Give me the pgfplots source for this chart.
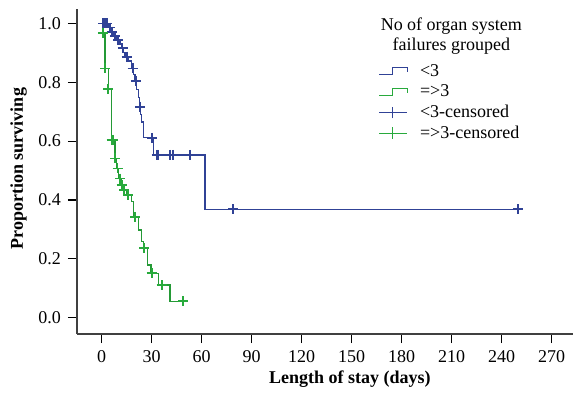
\documentclass[border=0pt]{standalone}
\usepackage{fontspec}
\setmainfont{Liberation Serif}
\usepackage{pgfplots}
\pgfplotsset{compat=1.18}
\definecolor{kmblue}{RGB}{48,66,150}
\definecolor{kmgreen}{RGB}{40,170,60}
\newcommand{\fs}{\fontsize{9bp}{10bp}\selectfont}
\pgfplotsset{
  steplegend/.style={legend image code/.code={
    \draw[##1] (0bp,-1.75bp) -- (6.7bp,-1.75bp) -- (6.7bp,1.75bp) -- (14.2bp,1.75bp) -- (14.2bp,-0.5bp);}},
  censlegend/.style={legend image code/.code={
    \draw[##1] (0bp,0bp) -- (14.2bp,0bp); \draw[##1] (6.8bp,-2.9bp) -- (6.8bp,2.9bp);}},
}
\begin{document}
\begin{tikzpicture}
\begin{axis}[
  scale only axis, width=248bp, height=162.5bp,
  xmin=-14.8, xmax=282.8, ymin=-0.0554, ymax=1.049,
  axis lines*=left,
  axis line style={line width=0.8bp, black!75},
  tick align=outside, major tick length=4.5bp,
  tick style={black, line width=0.6bp},
  xtick={0,30,...,270}, ytick={0,0.2,0.4,0.6,0.8,1.0},
  yticklabel style={/pgf/number format/.cd, fixed, fixed zerofill, precision=1},
  /pgf/number format/assume math mode=true,
  ticklabel style={font=\fs},
  xlabel={Length of stay (days)}, ylabel={Proportion surviving},
  label style={font=\fs\bfseries},
  xlabel style={at={(rel axis cs:0.55,0)}, anchor=base, yshift=-24.75bp},
  ylabel style={at={([xshift=-29.25bp]rel axis cs:0,0.509)}, anchor=center},
  legend style={at={(rel axis cs:0.607,0.834)}, anchor=north west, draw=none, fill=none,
    font=\fs, inner sep=0pt, row sep=2.3bp, column sep=6bp,
    nodes={inner sep=0pt, text height=6.5bp, text depth=1.5bp}},
  legend cell align=left,
]
\coordinate (SW) at (rel axis cs:0,0);
\coordinate (NE) at (rel axis cs:1,1);

\addlegendimage{kmblue, line width=0.6bp, steplegend}
\addlegendentry{<3}
\addlegendimage{kmgreen, line width=0.6bp, steplegend}
\addlegendentry{=>3}
\addlegendimage{kmblue, line width=0.6bp, censlegend}
\addlegendentry{<3-censored}
\addlegendimage{kmgreen, line width=0.6bp, censlegend}
\addlegendentry{=>3-censored}

% <3 group survival curve
\addplot[kmblue, line width=0.6bp, const plot, mark=none, forget plot] coordinates {
(0,1.000) (4,0.986) (5,0.972) (7,0.958) (9,0.944) (11,0.930) (12,0.916) (13,0.902)
(14,0.887) (16,0.872) (18,0.847) (19,0.826) (20,0.805) (21,0.776) (22,0.747)
(22.6,0.717) (23.5,0.690) (24,0.665) (25,0.611) (31,0.553) (62,0.369) (250,0.369)};
% >=3 group survival curve
\addplot[kmgreen!90!black, line width=0.6bp, const plot, mark=none, forget plot] coordinates {
(0,1.000) (0.7,0.967) (2,0.847) (4,0.776) (6,0.604) (8,0.541) (9,0.507) (10,0.473)
(12,0.450) (13,0.434) (15,0.417) (18,0.394) (19,0.343) (22,0.298) (24,0.258)
(25,0.236) (27.6,0.179) (29.6,0.151) (34,0.111) (41,0.056) (49,0.056)};
% censored marks <3
\addplot[kmblue, only marks, mark=+, mark size=2.5bp, line width=0.9bp, forget plot] coordinates {
(1,1.0) (2,1.0) (3,1.0) (5,0.986) (6,0.972) (8,0.958) (10,0.944) (12.5,0.916)
(15,0.887) (18.6,0.847) (20.5,0.805) (23,0.717) (30,0.611) (33,0.553) (34,0.553)
(41,0.553) (43,0.553) (53,0.553) (79,0.369) (250,0.369)};
% censored marks >=3
\addplot[kmgreen, only marks, mark=+, mark size=2.5bp, line width=0.9bp, forget plot] coordinates {
(0.7,0.967) (2,0.847) (4,0.776) (6,0.604) (7,0.604) (8,0.541) (9.5,0.507) (11,0.473)
(12,0.450) (13.5,0.434) (16,0.417) (20,0.343) (25.5,0.236) (30,0.151) (36,0.111) (49,0.056)};

\node[font=\fs, align=center, anchor=north, inner sep=0pt] at (rel axis cs:0.7547,0.974)
  {No of organ system\\failures grouped};
\end{axis}
\pgfresetboundingbox
\path ([xshift=-38.5bp,yshift=-30bp]SW) rectangle ([yshift=4.5bp]NE);
\end{tikzpicture}
\end{document}
